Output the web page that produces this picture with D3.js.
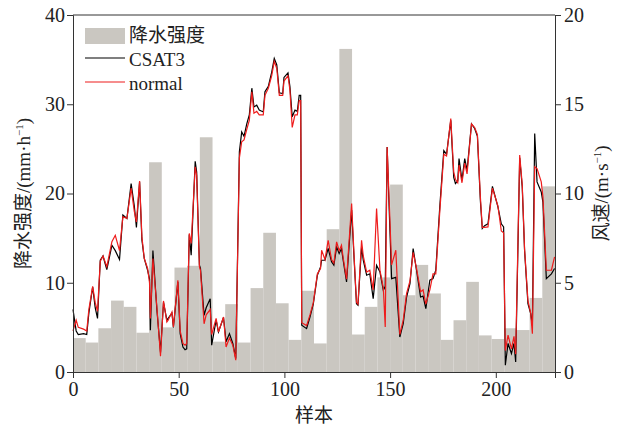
<!DOCTYPE html>
<html>
<head>
<meta charset="utf-8">
<script src="https://cdn.jsdelivr.net/npm/d3@7"></script>
<style>
  body { margin: 0; background: #fff; }
  svg text { font-family: "Liberation Serif", "Noto Sans CJK SC", serif; fill: #222; }
  .cjk { font-family: "Noto Sans CJK SC", "Liberation Serif", sans-serif; }
  .axis path, .axis line { stroke: #333; }
</style>
</head>
<body>
<script>
// Precipitation bars, one bar per 6 samples (mm/h)
var barStarts = d3.range(0, 228, 6);
var rainValues = [3.8, 3.3, 4.9, 8.0, 7.3, 4.4, 23.5, 5.0, 11.7, 11.9,
  26.3, 3.4, 7.6, 3.3, 9.4, 15.6, 7.7, 3.6, 9.1, 3.2,
  16.0, 36.2, 4.2, 7.3, 10.6, 21.0, 8.6, 12.0, 8.8, 3.6,
  5.8, 10.1, 4.1, 3.7, 4.9, 4.7, 8.3, 20.8];

// Wind speed, sample index and value (m/s)
var csatX = [0, 1.5, 2.5, 5, 6.5, 7.5, 9.3, 10.5, 11.6, 12.9, 14.2, 16, 18.4, 20, 22, 23.6, 25.5, 27.5, 29, 30,
  31.5, 32.6, 33.7, 35.3, 36.2, 36.6, 37.8, 39.7, 41.4, 42.8, 44.4, 45, 46.8, 47.5, 49.6, 50.7, 52, 53, 53.8, 55,
  55.9, 57.8, 58.5, 59.8, 60.3, 62, 63, 64.9, 65.6, 67.7, 68.8, 71.2, 72.4, 74, 75.6, 77, 78.7, 79.8, 80.9, 82.2,
  83.4, 84.6, 85.6, 86.9, 88.1, 90, 90.8, 92.4, 94, 95.2, 96.4, 97.6, 99.2, 99.8, 101.7, 102.6, 103.7, 105, 106.1, 107,
  107.7, 108.2, 110.5, 112.1, 113.7, 115.6, 117.1, 117.6, 119.2, 120.7, 122.3, 123.4, 124.7, 125.9, 127, 127.8, 129.4, 131.8, 133, 134.1,
  134.8, 136.5, 137.3, 138.9, 140.4, 142, 143.6, 145.2, 146.8, 147.7, 148.6, 149.6, 150.7, 152.7, 154.6, 156.2, 157.8, 159.4, 160.9, 162.5,
  164.4, 165.6, 166.9, 168.8, 170.3, 171.6, 173.5, 175.4, 176.7, 178.7, 180.1, 180.9, 182, 182.6, 184, 185.3, 186.4, 188.5, 190, 191.3,
  192.7, 193.6, 194.7, 196.3, 198.4, 201, 202.6, 203.7, 204.5, 205.8, 207.4, 208.6, 209.4, 211.3, 212.5, 213.6, 215.2, 216.5, 217.3, 218.4,
  219.5, 221.5, 222.3, 223.9, 226.3, 227.8];
var csatValues = [3.5, 2.3, 2.1, 2.15, 2.1, 3.3, 4.76, 3.6, 3.0, 6.26, 6.5, 5.74, 7.1, 6.8, 6.3, 8.8, 8.6, 10.56, 9.3, 8.1,
  10.65, 7.4, 6.36, 5.7, 5.2, 2.34, 6.8, 3.46, 1.1, 3.9, 2.9, 3.0, 3.3, 2.5, 5.05, 2.15, 1.4, 1.25, 1.3, 7.7,
  6.54, 11.8, 11.2, 5.98, 5.8, 3.18, 3.6, 4.1, 1.5, 2.9, 2.24, 3.05, 1.7, 2.15, 1.6, 0.75, 12.33, 13.45, 13.2, 13.9,
  14.4, 15.9, 14.85, 14.95, 14.67, 14.57, 15.7, 16.0, 16.8, 17.57, 17.2, 15.64, 15.6, 16.5, 16.76, 16.0, 14.3, 14.67, 14.6, 15.5,
  15.5, 2.62, 2.43, 3.08, 3.83, 5.42, 5.89, 6.26, 6.26, 6.93, 6.17, 5.98, 7.0, 6.64, 6.92, 6.26, 5.05, 9.07, 6.26, 3.83,
  3.75, 7.0, 6.26, 5.42, 5.5, 4.11, 5.98, 5.6, 4.58, 4.8, 12.6, 9.0, 5.23, 5.3, 1.96, 2.71, 4.2, 4.95, 6.92, 5.7,
  4.2, 4.25, 3.55, 5.14, 5.23, 5.7, 9.25, 12.4, 12.2, 14.1, 10.9, 10.56, 10.7, 11.96, 10.75, 11.96, 11.3, 13.9, 13.64, 13.2,
  9.6, 8.04, 8.2, 8.3, 10.4, 9.25, 8.3, 8.13, 0.38, 1.6, 1.03, 1.6, 0.56, 12.0, 10.37, 6.82, 3.83, 3.27, 2.6, 13.36,
  10.65, 10.09, 9.5, 5.23, 5.5, 5.8];
var normalValues = [2.3, 2.9, 2.5, 2.4, 2.3, 3.5, 4.8, 3.9, 3.4, 6.2, 6.5, 5.9, 7.3, 7.66, 6.8, 8.7, 8.6, 10.3, 9.0, 8.4,
  10.7, 7.57, 6.36, 5.8, 5.0, 3.0, 6.36, 3.6, 0.88, 3.98, 2.8, 2.9, 3.36, 2.52, 5.14, 2.3, 1.6, 1.5, 1.6, 7.76,
  7.2, 11.5, 11.0, 5.9, 5.7, 2.7, 3.2, 3.5, 2.1, 3.0, 2.24, 3.08, 1.4, 1.9, 1.5, 0.66, 12.0, 12.9, 13.0, 13.6,
  14.1, 15.7, 14.5, 14.6, 14.4, 14.4, 15.5, 15.9, 16.6, 17.4, 17.0, 15.5, 15.5, 16.3, 16.6, 15.8, 13.7, 14.4, 14.4, 15.2,
  15.2, 2.76, 2.6, 3.2, 3.9, 5.5, 5.8, 6.82, 6.3, 7.38, 6.3, 6.1, 7.29, 6.8, 7.1, 6.4, 5.2, 9.44, 6.4, 3.9,
  3.8, 7.38, 6.5, 5.6, 5.7, 4.6, 9.16, 5.7, 4.7, 2.52, 12.6, 9.5, 6.0, 6.82, 2.1, 2.9, 4.4, 5.1, 6.7, 5.8,
  4.5, 4.6, 3.8, 4.6, 5.5, 5.5, 9.0, 12.2, 12.1, 14.2, 11.2, 10.8, 10.6, 11.6, 10.6, 11.7, 11.1, 13.9, 13.7, 13.3,
  9.8, 8.1, 8.1, 8.13, 10.3, 9.3, 7.9, 7.8, 1.2, 2.06, 1.3, 2.0, 1.0, 12.15, 10.5, 6.9, 4.0, 3.3, 2.15, 11.5,
  11.4, 10.65, 9.8, 5.7, 5.7, 6.45];

var xTicks = [0, 50, 100, 150, 200];
var leftTicks = [0, 10, 20, 30, 40];
var rightTicks = [0, 5, 10, 15, 20];
var legendLabels = ["降水强度", "CSAT3", "normal"];

// SVG area
var svgWidth = 622;
var svgHeight = 430;
var margin = { top: 15, right: 67, bottom: 58, left: 73 };
var chartWidth = svgWidth - margin.left - margin.right;
var chartHeight = svgHeight - margin.top - margin.bottom;

var svg = d3.select("body")
  .append("svg")
  .attr("width", svgWidth)
  .attr("height", svgHeight);

var chartGroup = svg.append("g")
  .attr("transform", `translate(${margin.left}, ${margin.top})`);

// Scales
var xScale = d3.scaleLinear().domain([0, 228]).range([0, chartWidth]);
var yLeft = d3.scaleLinear().domain([0, 40]).range([chartHeight, 0]);
var yRight = d3.scaleLinear().domain([0, 20]).range([chartHeight, 0]);

// Bars
chartGroup.selectAll(".bar")
  .data(rainValues)
  .enter()
  .append("rect")
  .attr("x", (d, i) => xScale(barStarts[i]))
  .attr("width", (d, i) => xScale(barStarts[i] + 6) - xScale(barStarts[i]))
  .attr("y", d => yLeft(d))
  .attr("height", d => chartHeight - yLeft(d))
  .attr("fill", "#cac7c1");

// Lines
var drawCsat = d3.line()
  .x((d, i) => xScale(csatX[i]))
  .y(d => yRight(d));

chartGroup.append("path")
  .attr("d", drawCsat(csatValues))
  .attr("fill", "none")
  .attr("stroke", "#000")
  .attr("stroke-width", 1.2);

chartGroup.append("path")
  .attr("d", drawCsat(normalValues))
  .attr("fill", "none")
  .attr("stroke", "#ee1c1c")
  .attr("stroke-width", 1.2);

// Axes
chartGroup.append("g")
  .classed("axis", true)
  .attr("transform", "translate(0, " + chartHeight + ")")
  .call(d3.axisBottom(xScale).tickValues(xTicks).tickSizeOuter(0).tickSize(6).tickPadding(4));

chartGroup.append("g")
  .classed("axis", true)
  .call(d3.axisLeft(yLeft).tickValues(leftTicks).tickSizeOuter(0).tickSize(6).tickPadding(2));

chartGroup.append("g")
  .classed("axis", true)
  .attr("transform", "translate(" + chartWidth + ", 0)")
  .call(d3.axisRight(yRight).tickValues(rightTicks).tickSizeOuter(0).tickSize(6).tickPadding(3));

chartGroup.append("line")
  .attr("x1", 0).attr("x2", chartWidth)
  .attr("y1", 0).attr("y2", 0)
  .attr("stroke", "#333");

chartGroup.selectAll(".axis text")
  .style("font-family", "'Liberation Serif', serif")
  .style("font-size", "20px")
  .attr("fill", "#222");

// Axis titles
svg.append("text")
  .attr("class", "cjk")
  .attr("x", margin.left + chartWidth / 2)
  .attr("y", 422)
  .attr("text-anchor", "middle")
  .style("font-size", "19px")
  .text("样本");

svg.append("text")
  .attr("transform", "translate(30, " + (margin.top + chartHeight / 2) + ") rotate(-90)")
  .attr("text-anchor", "middle")
  .style("font-size", "19px")
  .html('<tspan class="cjk">降水强度</tspan>/(mm·h<tspan dy="-7" style="font-size:11px">−1</tspan><tspan dy="7">)</tspan>');

svg.append("text")
  .attr("transform", "translate(608, " + (margin.top + chartHeight / 2) + ") rotate(-90)")
  .attr("text-anchor", "middle")
  .style("font-size", "19px")
  .html('<tspan class="cjk">风速</tspan>/(m·s<tspan dy="-7" style="font-size:11px">−1</tspan><tspan dy="7">)</tspan>');

// Legend
var legend = chartGroup.append("g").attr("transform", "translate(12, 13)");
legend.append("rect")
  .attr("x", 0).attr("y", 0).attr("width", 40).attr("height", 16)
  .attr("fill", "#cac7c1");
legend.append("line")
  .attr("x1", 0).attr("x2", 40).attr("y1", 30).attr("y2", 30)
  .attr("stroke", "#000").attr("stroke-width", 1.2);
legend.append("line")
  .attr("x1", 0).attr("x2", 40).attr("y1", 54).attr("y2", 54)
  .attr("stroke", "#ee1c1c").attr("stroke-width", 1.2);
legend.selectAll(".legend-text")
  .data(legendLabels)
  .enter()
  .append("text")
  .attr("class", (d, i) => i === 0 ? "cjk" : "")
  .attr("x", 44)
  .attr("y", (d, i) => 14 + i * 24)
  .style("font-size", "19px")
  .text(d => d);
</script>
</body>
</html>
